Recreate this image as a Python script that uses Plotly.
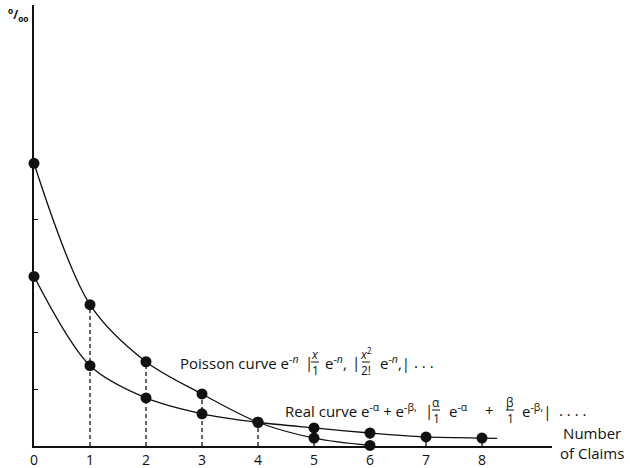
import plotly.graph_objects as go

# ---- data (‰ per number of claims) ----
claims = [0, 1, 2, 3, 4, 5, 6, 7, 8]
poisson_x = [0, 1, 2, 3, 4, 5, 6]
poisson_y = [50.0, 25.0, 14.9, 9.2, 4.2, 1.4, 0.1]
real_x = [0, 1, 2, 3, 4, 5, 6, 7, 8]
real_y = [30.0, 14.2, 8.5, 5.7, 4.2, 3.2, 2.3, 1.6, 1.4]
real_tail_x = [8.27]
real_tail_y = [1.35]
xtick_labels = ["0", "1", "2", "3", "4", "5", "6", "7", "8"]

W, H = 630, 468
ML, MR, MT, MB = 34, 78, 5, 22
FONT = "Open Sans"
INK = "#111111"

fig = go.Figure()

# curves
fig.add_trace(go.Scatter(x=poisson_x, y=poisson_y, mode="lines",
                         line=dict(color=INK, width=1.3, shape="spline", smoothing=0.9),
                         hoverinfo="skip", showlegend=False))
fig.add_trace(go.Scatter(x=real_x + real_tail_x, y=real_y + real_tail_y, mode="lines",
                         line=dict(color=INK, width=1.3, shape="spline", smoothing=0.9),
                         hoverinfo="skip", showlegend=False))

# dashed verticals from the upper point to the base line
pmap = dict(zip(poisson_x, poisson_y))
rmap = dict(zip(real_x, real_y))
vx, vy = [], []
for k in claims[1:]:
    top = max(pmap.get(k, 0), rmap.get(k, 0))
    vx += [k, k, None]
    vy += [0, top, None]
fig.add_trace(go.Scatter(x=vx, y=vy, mode="lines",
                         line=dict(color=INK, width=1.3, dash="4px,3px"),
                         hoverinfo="skip", showlegend=False))

# points
fig.add_trace(go.Scatter(x=poisson_x, y=poisson_y, mode="markers",
                         marker=dict(color=INK, size=11), cliponaxis=False,
                         showlegend=False))
fig.add_trace(go.Scatter(x=real_x, y=real_y, mode="markers",
                         marker=dict(color=INK, size=11), cliponaxis=False,
                         showlegend=False))

PW, PH = W - ML - MR, H - MT - MB


def px(x):
    return (x - ML) / PW


def py(y):
    return (H - MB - y) / PH


ann = []
shapes = []


def txt(x, y, s, size=15, anchor="left"):
    ann.append(dict(xref="paper", yref="paper", x=px(x), y=py(y), text=s,
                    showarrow=False, xanchor=anchor, yanchor="middle",
                    font=dict(family=FONT, size=size, color=INK)))


def frac(x, y, num, den, size=12):
    txt(x, y - 8, num, size=size, anchor="center")
    txt(x, y + 8, den, size=size, anchor="center")
    shapes.append(dict(type="line", xref="paper", yref="paper",
                       x0=px(x - 4), x1=px(x + 4), y0=py(y), y1=py(y),
                       line=dict(color=INK, width=1)))


# Poisson label
yP = 362
txt(178, yP, "Poisson curve e<sup>-<i>n</i></sup>")
txt(303, yP, "|")
frac(315, yP, "<i>x</i>", "1")
txt(323, yP, "e<sup>-<i>n</i></sup>,")
txt(350, yP, "|")
frac(366, yP, "<i>x</i><sup>2</sup>", "2!")
txt(378, yP, "e<sup>-<i>n</i></sup>,|")
txt(412, yP, ". . .")

# Real label
yR = 410
txt(283, yR, "Real curve e<sup>-α</sup> + e<sup>-β,</sup>")
txt(423, yR, "|")
frac(436, yR, "α", "1")
txt(447, yR, "e<sup>-α</sup>")
txt(483, yR, "+")
frac(510, yR, "β", "1")
txt(520, yR, "e<sup>-β,</sup>|")
txt(557, yR, ". . . .")

# axis texts
txt(558, 443, "Number<br>of Claims", size=15)
txt(6, 14, "<b><sup>o</sup>/<sub>oo</sub></b>", size=12)

fig.update_layout(
    width=W, height=H,
    margin=dict(l=ML, r=MR, t=MT, b=MB, pad=0),
    paper_bgcolor="white", plot_bgcolor="white",
    annotations=ann, shapes=shapes,
    xaxis=dict(range=[0, 9.25], showgrid=False, zeroline=False,
               showline=True, linecolor=INK, linewidth=1.5,
               tickmode="array", tickvals=claims, ticktext=xtick_labels,
               ticks="", tickfont=dict(family=FONT, size=14, color=INK),
               automargin=False),
    yaxis=dict(range=[0, 78], showgrid=False, zeroline=False,
               showline=True, linecolor=INK, linewidth=1.5,
               tickvals=[10, 20, 30, 40, 50], ticks="inside", ticklen=4,
               tickcolor=INK, showticklabels=False, automargin=False),
)

fig.write_html("out.html", config={"displayModeBar": False},
               post_script="document.body.style.margin='0';document.body.style.overflow='hidden';")
